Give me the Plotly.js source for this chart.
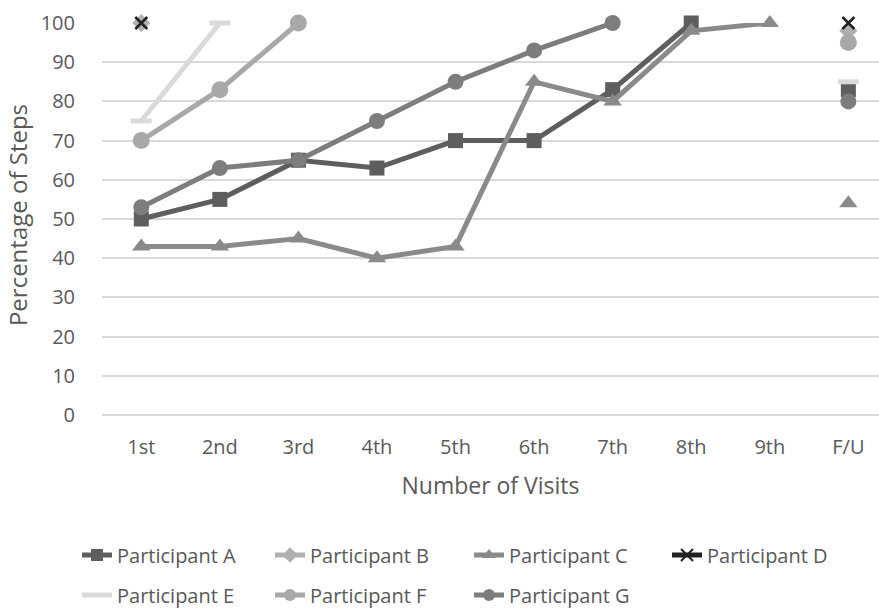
<!DOCTYPE html>
<html>
<head>
<meta charset="utf-8">
<script src="https://cdn.plot.ly/plotly-3.0.1.min.js"></script>
<style>
  html, body { margin: 0; padding: 0; background: #ffffff; }
  #chart { width: 879px; height: 612px; }
</style>
</head>
<body>
<div id="chart"></div>
<script>
// Visit categories (last one is the follow-up visit)
const visits = ['1st', '2nd', '3rd', '4th', '5th', '6th', '7th', '8th', '9th', 'F/U'];

// Percentage of steps completed per visit; null = no visit
const participantA = [50, 55, 65, 63, 70, 70, 83, 100, null, 83];
const participantB = [100, null, null, null, null, null, null, null, null, 98];
const participantC = [43, 43, 45, 40, 43, 85, 80, 98, 100, 54];
const participantD = [100, null, null, null, null, null, null, null, null, 100];
const participantE = [75, 100, null, null, null, null, null, null, null, 85];
const participantF = [70, 83, 100, null, null, null, null, null, null, 95];
const participantG = [53, 63, 65, 75, 85, 93, 100, null, null, 80];

const yTicks = [0, 10, 20, 30, 40, 50, 60, 70, 80, 90, 100];

const FONT = '"Open Sans", "Noto Sans", sans-serif';
const TEXT = '#595959';

// series styling
const series = [
  { name: 'Participant A', values: participantA, color: '#5e5e5e', marker: { symbol: 'square', size: 15 } },
  { name: 'Participant B', values: participantB, color: '#b0b0b0', marker: { symbol: 'diamond', size: 14 } },
  { name: 'Participant C', values: participantC, color: '#8a8a8a', marker: { symbol: 'triangle-up', size: 16 } },
  { name: 'Participant D', values: participantD, color: '#222222', marker: { symbol: 'x-thin', size: 12, lw: 2.5 } },
  { name: 'Participant E', values: participantE, color: '#dadada', marker: { symbol: 'line-ew', size: 15, lw: 5 } },
  { name: 'Participant F', values: participantF, color: '#a8a8a8', marker: { symbol: 'circle', size: 17 } },
  { name: 'Participant G', values: participantG, color: '#7d7d7d', marker: { symbol: 'circle', size: 16 } }
];

// one small legend per entry, laid out in two rows
const legendSlots = [
  { x: 77, y: 555 }, { x: 270, y: 555 }, { x: 469, y: 555 }, { x: 667, y: 555 },
  { x: 77, y: 595 }, { x: 270, y: 595 }, { x: 469, y: 595 }
];

const W = 879, H = 612;
const M = { l: 102, r: 0, t: 23, b: 197 };
const visitCats = visits.slice(0, visits.length - 1);
const fuCat = visits[visits.length - 1];

const traces = [];
const layout = {
  width: W, height: H,
  paper_bgcolor: '#ffffff',
  plot_bgcolor: '#ffffff',
  margin: { l: M.l, r: M.r, t: M.t, b: M.b, pad: 0, autoexpand: false },
  font: { family: FONT, color: TEXT, size: 20 },
  xaxis: {
    type: 'category',
    categoryorder: 'array',
    categoryarray: visits,
    range: [-0.5, 9.39],
    showgrid: false,
    zeroline: false,
    showline: false,
    ticks: 'outside',
    ticklen: 14,
    tickcolor: 'rgba(0,0,0,0)',
    tickangle: 0,
    tickfont: { family: FONT, size: 20, color: TEXT },
    title: { text: 'Number of Visits', font: { family: FONT, size: 23, color: TEXT } },
    automargin: false,
    fixedrange: true
  },
  yaxis: {
    range: [0, 100],
    tickvals: yTicks,
    ticktext: yTicks.map(String),
    showgrid: true,
    gridcolor: '#d9d9d9',
    gridwidth: 2,
    zeroline: true,
    zerolinecolor: '#d9d9d9',
    zerolinewidth: 2,
    showline: false,
    ticks: 'outside',
    ticklen: 22,
    tickcolor: 'rgba(0,0,0,0)',
    tickfont: { family: FONT, size: 20, color: TEXT },
    automargin: false,
    fixedrange: true
  },
  // vertical axis title
  annotations: [{
    text: 'Percentage of Steps',
    xref: 'paper', yref: 'paper',
    x: (17 - M.l) / (W - M.l - M.r),
    y: 0.51,
    xanchor: 'center', yanchor: 'middle',
    textangle: -90,
    showarrow: false,
    font: { family: FONT, size: 24, color: TEXT }
  }],
  showlegend: true
};

series.forEach((s, i) => {
  const legendId = i === 0 ? 'legend' : 'legend' + (i + 1);
  const mk = {
    symbol: s.marker.symbol,
    size: s.marker.size,
    color: s.color,
    line: { color: s.color, width: s.marker.lw || 0 }
  };
  // visits 1st..9th, connected
  traces.push({
    type: 'scatter',
    mode: 'lines+markers',
    name: s.name,
    x: visitCats,
    y: s.values.slice(0, visitCats.length),
    line: { color: s.color, width: 5 },
    marker: mk,
    connectgaps: false,
    cliponaxis: false,
    legend: legendId,
    hoverinfo: 'skip'
  });
  // follow-up visit, standalone marker
  traces.push({
    type: 'scatter',
    mode: 'markers',
    name: s.name,
    x: [fuCat],
    y: [s.values[s.values.length - 1]],
    marker: mk,
    cliponaxis: false,
    showlegend: false,
    hoverinfo: 'skip'
  });

  layout[legendId] = {
    orientation: 'v',
    xref: 'container', yref: 'container',
    x: legendSlots[i].x / W,
    y: 1 - legendSlots[i].y / H,
    xanchor: 'left', yanchor: 'middle',
    bgcolor: 'rgba(0,0,0,0)',
    borderwidth: 0,
    itemsizing: 'constant',
    font: { family: FONT, size: 20, color: TEXT }
  };
});

Plotly.newPlot('chart', traces, layout, { staticPlot: true, displayModeBar: false });
</script>
</body>
</html>
